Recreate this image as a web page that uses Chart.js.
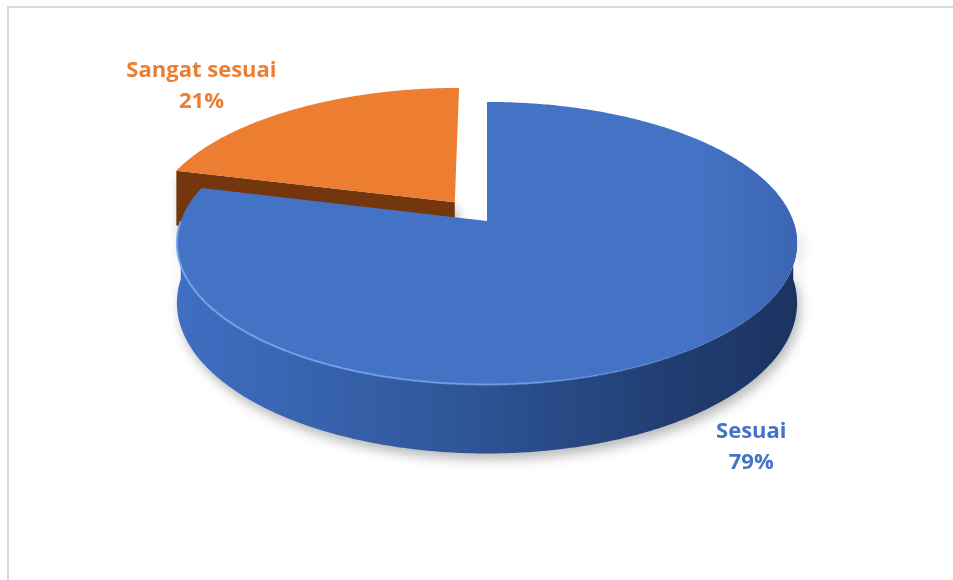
<!DOCTYPE html>
<html>
<head>
<meta charset="utf-8">
<title>Kesesuaian</title>
<script src="https://cdn.jsdelivr.net/npm/chart.js@4.4.1/dist/chart.umd.min.js"></script>
<style>
    html, body { margin: 0; padding: 0; background: #fff; overflow: hidden; }
    #wrap { position: relative; width: 953px; height: 580px; }
</style>
</head>
<body>
<div id="wrap"><canvas id="pie"></canvas></div>
<script>
(function () {
    'use strict';

    // Chart data
    var categories = ['Sesuai', 'Sangat sesuai'];
    var values = [79, 21];

    // Slice colours: top face, side wall gradient stops, label text
    var TOP_COLORS = ['#4472C4', '#ED7D31'];
    var TOP_SHADE = ['#3c66b3', '#e27528'];
    var SIDE_COLORS = [
        ['#3f6ec2', '#2f5698', '#213f74', '#1b3361'],
        ['#6c310a', '#74360c', '#7a390d', '#7a390d']
    ];
    var RIM_HIGHLIGHT = ['rgba(120, 165, 240, ', 'rgba(250, 170, 110, '];
    var LABEL_COLORS = ['#4472C4', '#ED7D31'];

    var total = values.reduce(function (s, v) { return s + v; }, 0);

    /**
     * Perspective projection of a flat disc (unit radius, in slice-angle space)
     * onto the canvas. z = 0 is the top face, z = 1 the bottom of the wall.
     */
    function makeProjector(chart, opts) {
        var arcs = chart.getDatasetMeta(0).data;
        var R = arcs[0].outerRadius;
        var cx = arcs[0].x, cy = arcs[0].y;
        var rx = R * opts.scaleX;
        var ry = rx * opts.tilt;
        var depth = rx * opts.depth;
        var p = opts.perspective;

        function proj(u, w, z) {
            var d = 1 / (1 - p * w);
            return { x: cx + rx * u * d, y: cy + (ry * w + depth * z) * d };
        }

        function geom(el) {
            var off = (el.options.offset || 0) / R;
            var mid = (el.startAngle + el.endAngle) / 2;
            return {
                a0: el.startAngle,
                a1: el.endAngle,
                mid: mid,
                ou: Math.cos(mid) * off,
                ow: Math.sin(mid) * off
            };
        }

        return { proj: proj, geom: geom, cx: cx, rx: rx };
    }

    function rim(P, g, a, z) {
        return P.proj(g.ou + Math.cos(a), g.ow + Math.sin(a), z);
    }

    function apex(P, g, z) {
        return P.proj(g.ou, g.ow, z);
    }

    function traceRim(ctx, P, g, from, to, z, move) {
        var n = Math.max(2, Math.ceil(Math.abs(to - from) / 0.01));
        for (var k = 0; k <= n; k++) {
            var pt = rim(P, g, from + (to - from) * k / n, z);
            if (k === 0 && move) ctx.moveTo(pt.x, pt.y);
            else ctx.lineTo(pt.x, pt.y);
        }
    }

    function radialWall(ctx, P, g, a) {
        var t0 = apex(P, g, 0), t1 = rim(P, g, a, 0);
        var b1 = rim(P, g, a, 1), b0 = apex(P, g, 1);
        ctx.beginPath();
        ctx.moveTo(t0.x, t0.y);
        ctx.lineTo(t1.x, t1.y);
        ctx.lineTo(b1.x, b1.y);
        ctx.lineTo(b0.x, b0.y);
        ctx.closePath();
        ctx.fill();
    }

    var pie3d = {
        id: 'pie3d',

        beforeDraw: function (chart, args, opts) {
            // light frame around the chart area
            var ctx = chart.ctx;
            ctx.save();
            ctx.strokeStyle = opts.frameColor;
            ctx.lineWidth = 2;
            ctx.strokeRect(8, 7, chart.width + 40, chart.height + 40);
            ctx.restore();
        },

        beforeDatasetsDraw: function (chart, args, opts) {
            var ctx = chart.ctx;
            var arcs = chart.getDatasetMeta(0).data;
            var P = makeProjector(chart, opts);

            // back slices first
            var order = arcs.map(function (el, i) { return i; });
            order.sort(function (i, j) {
                return Math.sin(P.geom(arcs[i]).mid) - Math.sin(P.geom(arcs[j]).mid);
            });

            order.forEach(function (i) {
                var g = P.geom(arcs[i]);
                var stops = SIDE_COLORS[i];
                var left = P.cx - P.rx, right = P.cx + P.rx;

                ctx.save();
                ctx.shadowColor = 'rgba(0, 0, 0, 0.28)';
                ctx.shadowBlur = 12;
                ctx.shadowOffsetX = 3;
                ctx.shadowOffsetY = 6;

                // outer wall, only the part facing the viewer
                var s = Math.max(g.a0, 0), e = Math.min(g.a1, Math.PI);
                if (e > s) {
                    var grad = ctx.createLinearGradient(left, 0, right, 0);
                    grad.addColorStop(0, stops[0]);
                    grad.addColorStop(0.45, stops[1]);
                    grad.addColorStop(0.78, stops[2]);
                    grad.addColorStop(1, stops[3]);
                    ctx.fillStyle = grad;
                    ctx.beginPath();
                    traceRim(ctx, P, g, s, e, 0, true);
                    traceRim(ctx, P, g, e, s, 1, false);
                    ctx.closePath();
                    ctx.fill();
                }

                // radial cut faces
                ctx.fillStyle = stops[1];
                if (Math.cos(g.a0) < -1e-6) radialWall(ctx, P, g, g.a0);
                if (Math.cos(g.a1) > 1e-6) radialWall(ctx, P, g, g.a1);
                ctx.restore();

                // top face, a little darker towards the right edge
                ctx.save();
                var c = apex(P, g, 0);
                var topGrad = ctx.createLinearGradient(left, 0, right, 0);
                topGrad.addColorStop(0, TOP_COLORS[i]);
                topGrad.addColorStop(0.85, TOP_COLORS[i]);
                topGrad.addColorStop(1, TOP_SHADE[i]);
                ctx.fillStyle = topGrad;
                ctx.beginPath();
                ctx.moveTo(c.x, c.y);
                traceRim(ctx, P, g, g.a0, g.a1, 0, false);
                ctx.closePath();
                ctx.fill();

                // bevel highlight along the front rim, fading to the right
                if (e > s) {
                    var hl = ctx.createLinearGradient(left, 0, right, 0);
                    hl.addColorStop(0, RIM_HIGHLIGHT[i] + '0.9)');
                    hl.addColorStop(0.55, RIM_HIGHLIGHT[i] + '0.7)');
                    hl.addColorStop(0.85, RIM_HIGHLIGHT[i] + '0)');
                    ctx.strokeStyle = hl;
                    ctx.lineWidth = 2;
                    ctx.beginPath();
                    traceRim(ctx, P, g, s, e, 0, true);
                    ctx.stroke();
                }
                ctx.restore();
            });

            return false;
        },

        afterDraw: function (chart, args, opts) {
            var ctx = chart.ctx;
            var arcs = chart.getDatasetMeta(0).data;
            var P = makeProjector(chart, opts);

            ctx.save();
            ctx.font = opts.labelFont;
            ctx.textAlign = 'center';
            ctx.textBaseline = 'alphabetic';
            arcs.forEach(function (el, i) {
                var g = P.geom(el);
                var front = Math.sin(g.mid) > 0;
                var a = rim(P, g, g.mid, front ? 1 : 0);
                var shift = opts.labelShift[i];
                var x = a.x + shift[0], y = a.y + shift[1];
                var pct = Math.round(values[i] / total * 100) + '%';
                ctx.fillStyle = LABEL_COLORS[i];
                ctx.fillText(categories[i], x, y);
                ctx.fillText(pct, x, y + opts.lineHeight);
            });
            ctx.restore();
        }
    };

    new Chart(document.getElementById('pie'), {
        type: 'pie',
        data: {
            labels: categories,
            datasets: [{
                data: values,
                backgroundColor: TOP_COLORS,
                borderWidth: 0,
                offset: [0, 35]
            }]
        },
        options: {
            responsive: true,
            maintainAspectRatio: false,
            animation: false,
            events: [],
            layout: { padding: { left: 21, right: 0, top: 4, bottom: 142 } },
            plugins: {
                legend: { display: false },
                tooltip: { enabled: false },
                pie3d: {
                    scaleX: 1.535,
                    tilt: 0.45,
                    depth: 0.19,
                    perspective: 0.157,
                    frameColor: '#d9d9d9',
                    labelFont: 'bold 22px "Open Sans"',
                    lineHeight: 31,
                    labelShift: [[50, 26], [-93, -32]]
                }
            }
        },
        plugins: [pie3d]
    });
})();
</script>
</body>
</html>
